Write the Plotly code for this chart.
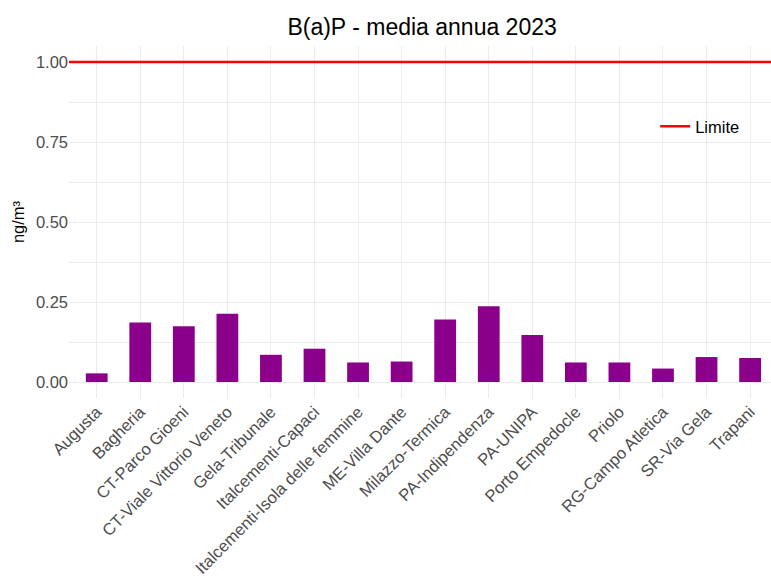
import plotly.graph_objects as go

stations = [
    "Augusta", "Bagheria", "CT-Parco Gioeni", "CT-Viale Vittorio Veneto",
    "Gela-Tribunale", "Italcementi-Capaci", "Italcementi-Isola delle femmine",
    "ME-Villa Dante", "Milazzo-Termica", "PA-Indipendenza", "PA-UNIPA",
    "Porto Empedocle", "Priolo", "RG-Campo Atletica", "SR-Via Gela", "Trapani",
]
bap_values = [0.027, 0.186, 0.174, 0.213, 0.085, 0.104, 0.061, 0.064,
              0.195, 0.237, 0.147, 0.061, 0.061, 0.042, 0.078, 0.075]
limit_value = 1.0
y_ticks = [0.0, 0.25, 0.5, 0.75, 1.0]
y_tick_labels = ["0.00", "0.25", "0.50", "0.75", "1.00"]

grid = "#EBEBEB"

fig = go.Figure()
fig.add_trace(go.Bar(
    x=stations, y=bap_values, width=0.5,
    marker=dict(color="#8B008B", line=dict(width=0)),
    showlegend=False,
))
# limit line spans the full plot width via a hidden 0..1 axis
fig.add_trace(go.Scatter(
    x=[0, 1], y=[limit_value, limit_value], xaxis="x2",
    mode="lines", line=dict(color="#FF0000", width=2.5),
    name="Limite",
))

fig.update_layout(
    width=771, height=579,
    font=dict(family="Liberation Sans, Arial, sans-serif", color="#4D4D4D"),
    paper_bgcolor="white", plot_bgcolor="white",
    margin=dict(l=69, r=0, t=46, b=181),
    title=dict(text="B(a)P - media annua 2023", x=0.503, xanchor="center",
               xref="paper", y=0.953, yanchor="middle",
               font=dict(size=23, color="black")),
    xaxis=dict(
        range=[-0.636, 15.48], tickangle=-45, showgrid=True, gridcolor=grid,
        gridwidth=1, ticks="", tickfont=dict(size=16.6, color="#4D4D4D"),
        zeroline=False, showline=False, automargin=False,
    ),
    xaxis2=dict(range=[0, 1], overlaying="x", visible=False),
    yaxis=dict(
        range=[-0.05, 1.05], tickvals=y_ticks, ticktext=y_tick_labels,
        showgrid=True, gridcolor=grid, gridwidth=1.3, zeroline=False,
        tickfont=dict(size=16.5, color="#4D4D4D"), ticks="", automargin=False,
        title=dict(text="ng/m³", font=dict(size=16.5, color="black"), standoff=7),
        minor=dict(tickvals=[0.125, 0.375, 0.625, 0.875], showgrid=True,
                   gridcolor=grid, gridwidth=1),
    ),
    legend=dict(x=0.835, y=0.771, xanchor="left", yanchor="middle",
                bgcolor="rgba(0,0,0,0)", font=dict(size=16.5, color="black")),
)

fig.write_html("out.html", config={"displayModeBar": False},
               post_script="document.body.style.margin='0';")
